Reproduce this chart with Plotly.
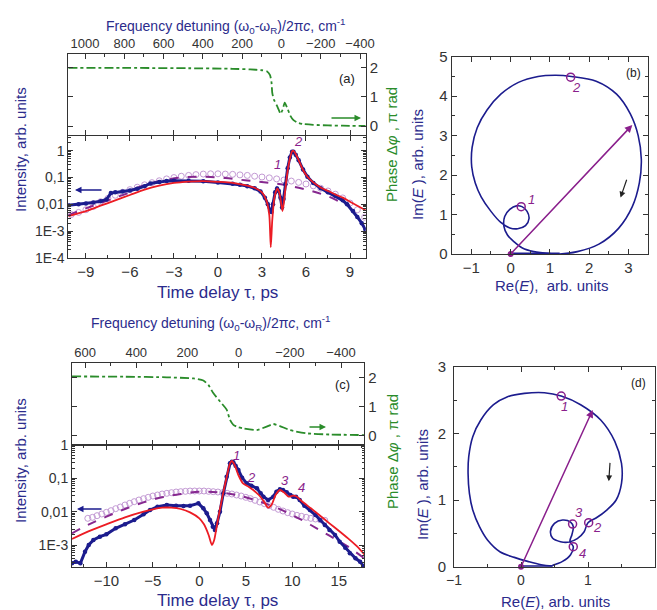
import numpy as np
import plotly.graph_objects as go

W, H = 657, 610
FONT = "Arial, Liberation Sans, sans-serif"
BLUE = "#1c1c8e"
TBLUE = "#2b2b8c"
RED = "#ec1c24"
PURD = "#86288f"
PURL = "#c39ad4"
GREEN = "#2a8c2a"
PURA = "#8a1f8c"
AX = "#333333"

# ---------------- Panel (a) ----------------
a_phase_t = [-10.2, -6, -2, 1, 2.2, 3.0, 3.35, 3.55, 3.65, 3.7, 3.8, 4.0, 4.15, 4.26, 4.4, 4.55,
             4.7, 4.94, 5.15, 5.4, 5.8, 6.5, 7.5, 8.5, 10.07]
a_phase = [2.0, 2.0, 1.99, 1.97, 1.95, 1.92, 1.88, 1.75, 1.5, 1.15, 0.92, 0.72, 0.55, 0.42, 0.55, 0.8,
           0.65, 0.35, 0.2, 0.12, 0.07, 0.04, 0.02, 0.01, 0.0]

a_exp_t = [-10.2, -9.5, -9.0, -8.5, -8.0, -7.6, -7.3, -7.0, -6.5, -6.0, -5.5, -5.0, -4.6, -4.0, -3.5,
           -3.0, -2.0, -1.0, 0.0, 1.0, 1.5, 2.0, 2.5, 2.9, 3.2, 3.4, 3.55, 3.65, 3.75, 3.9, 4.03,
           4.15, 4.26, 4.37, 4.47, 4.6, 4.75, 4.9, 5.05, 5.15, 5.3, 5.5, 5.8, 6.1, 6.5, 7.0, 7.5,
           8.0, 8.5, 8.8, 9.2, 9.5, 9.8, 10.05]
a_exp_log = [-2.03, -2.0, -1.97, -1.93, -1.88, -1.82, -1.58, -1.55, -1.52, -1.48, -1.42, -1.32, -1.22,
             -1.17, -1.13, -1.12, -1.12, -1.14, -1.18, -1.23, -1.27, -1.32, -1.4, -1.52, -1.75, -2.0,
             -2.25, -2.28, -2.0, -1.55, -1.41, -1.5, -1.75, -2.12, -1.8, -1.25, -0.65, -0.25, -0.04,
             -0.04, -0.15, -0.35, -0.7, -0.97, -1.2, -1.4, -1.55, -1.68, -1.85, -2.0, -2.25, -2.47,
             -2.7, -2.95]

a_calc_t = [-10.2, -9, -8, -7, -6, -5, -4, -3, -2, -1, 0, 1, 2, 2.5, 3.0, 3.3, 3.5, 3.6, 3.7, 3.85,
            4.05, 4.2, 4.32, 4.4, 4.5, 4.6, 4.75, 4.9, 5.05, 5.15, 5.3, 5.5, 5.8, 6.1, 6.5, 7.0, 7.5,
            8.0, 8.5, 9.0, 9.5, 10.07]
a_calc_log = [-2.44, -2.25, -2.05, -1.85, -1.65, -1.45, -1.3, -1.2, -1.15, -1.13, -1.16, -1.2, -1.3,
              -1.38, -1.55, -1.85, -2.4, -3.6, -2.6, -1.75, -1.4, -1.6, -2.0, -2.25, -1.9, -1.4,
              -0.75, -0.3, -0.02, 0.0, -0.12, -0.35, -0.72, -0.97, -1.18, -1.37, -1.5, -1.63,
              -1.75, -1.9, -2.05, -2.22]

a_ref_t = [-10.0, -9.5, -9.0, -8.5, -8.0, -7.5, -7.0, -6.5, -6.0, -5.5, -5.0, -4.5, -4.0, -3.5, -3.0,
           -2.5, -2.0, -1.5, -1.0, -0.5, 0.0, 0.5, 1.0, 1.5, 2.0, 2.5, 3.0, 3.5, 4.0, 4.5, 5.0, 5.5,
           6.0, 6.5, 7.0, 7.5, 8.0, 8.5, 9.0, 9.5, 10.0]
a_ref_log = [-2.38, -2.3, -2.2, -2.08, -1.9, -1.78, -1.66, -1.55, -1.45, -1.36, -1.27, -1.19, -1.12,
             -1.05, -1.0, -0.95, -0.92, -0.89, -0.87, -0.86, -0.86, -0.87, -0.88, -0.9, -0.92, -0.95,
             -0.98, -1.01, -1.05, -1.09, -1.13, -1.18, -1.24, -1.31, -1.4, -1.5, -1.62, -1.76,
             -1.95, -2.2, -2.48]

a_dash_t = [-10.2, -9, -8, -7, -6, -5.5, -4.5, -3.5, -2.5, -1.5, -0.5, 0.5, 1.5, 2.5, 3.5, 4.5, 5.5,
            6.5, 7.5, 8.5, 9.0]
a_dash_log = [-2.4, -2.15, -1.95, -1.75, -1.55, -1.38, -1.2, -1.08, -1.0, -0.97, -0.98, -1.02, -1.08,
              -1.14, -1.2, -1.27, -1.38, -1.52, -1.7, -1.95, -2.05]

# ---------------- Panel (b) ----------------
b_axis_re = [0.0, 0.6, 1.25]
b_axis_im = [0.0, 0.0, 0.0]
b_re = [1.25, 1.0, 0.59, 0.3, 0.1, -0.08, -0.17, -0.15, -0.02, 0.15, 0.29, 0.42, 0.47, 0.38, 0.18,
        -0.02, -0.25, -0.5, -0.75, -0.9, -0.99, -0.98, -0.85, -0.6, -0.25, 0.2, 0.7, 1.15, 1.55,
        2.18, 2.7, 3.05, 3.25, 3.33, 3.28, 3.1, 2.75, 2.25, 1.7, 1.25]
b_im = [0.0, 0.01, 0.06, 0.15, 0.3, 0.48, 0.7, 0.95, 1.13, 1.22, 1.2, 1.08, 0.9, 0.72, 0.64, 0.66,
        0.8, 1.08, 1.45, 1.8, 2.21, 2.7, 3.2, 3.65, 4.05, 4.35, 4.5, 4.53, 4.5, 4.38, 4.05, 3.55,
        3.0, 2.4, 1.8, 1.2, 0.65, 0.25, 0.06, 0.0]
b_pts_re = [0.27, 1.53]
b_pts_im = [1.2, 4.48]
b_vec = (3.1, 3.27)

# ---------------- Panel (c) ----------------
c_phase_t = [-13.7, -8, -3.5, -0.64, 0.43, 0.97, 1.5, 2.23, 2.94, 3.3, 3.66, 4.2, 4.73, 6.17, 7.24,
             7.96, 8.67, 9.75, 11.5, 14.0, 17.75]
c_phase = [2.04, 2.03, 2.01, 1.97, 1.9, 1.75, 1.47, 1.18, 0.9, 0.55, 0.38, 0.3, 0.26, 0.2, 0.32,
           0.41, 0.34, 0.2, 0.09, 0.05, 0.03]

c_exp_t = [-13.7, -13.3, -12.8, -12.3, -11.9, -11.4, -10.7, -10.0, -9.0, -8.0, -7.0, -6.0, -5.3, -4.5,
           -3.5, -2.5, -1.7, -1.0, -0.1, 0.43, 0.8, 1.15, 1.45, 1.68, 1.9, 2.22, 2.58, 2.94, 3.3,
           3.5, 3.66, 3.9, 4.2, 4.6, 5.1, 5.6, 6.2, 6.6, 6.9, 7.4, 7.96, 8.3, 8.67, 9.0, 9.4, 9.8,
           10.1, 10.4, 10.8, 11.3, 11.9, 12.5, 13.0, 13.5, 14.0, 14.6, 15.1, 15.7, 16.2, 16.8, 17.3,
           17.7]
c_exp_log = [-3.55, -3.5, -3.55, -3.2, -3.0, -2.85, -2.75, -2.68, -2.5, -2.38, -2.25, -2.08, -1.95,
             -1.85, -1.8, -1.82, -1.83, -1.82, -1.75, -1.9, -2.05, -2.25, -2.45, -2.55, -2.35, -2.0,
             -1.45, -0.95, -0.55, -0.5, -0.52, -0.62, -0.75, -0.98, -1.15, -1.22, -1.3, -1.45,
             -1.55, -1.65, -1.55, -1.4, -1.33, -1.35, -1.42, -1.5, -1.55, -1.55, -1.65, -1.82,
             -1.95, -2.1, -2.25, -2.4, -2.55, -2.7, -2.9, -3.08, -3.25, -3.4, -3.5, -3.65]

c_calc_t = [-13.7, -12, -10, -8, -6, -5, -4, -3, -2, -1, 0, 0.5, 1.0, 1.35, 1.6, 1.9, 2.2, 2.6, 2.95,
            3.3, 3.5, 3.8, 4.2, 4.7, 5.3, 5.8, 6.4, 6.9, 7.4, 7.8, 8.2, 8.67, 9.1, 9.6, 10.1, 10.5,
            11, 12, 13, 14, 15, 16, 17, 17.75]
c_calc_log = [-2.82, -2.6, -2.38, -2.17, -2.0, -1.93, -1.88, -1.88, -1.92, -2.02, -2.2, -2.38, -2.7,
              -3.0, -2.85, -2.4, -1.95, -1.4, -0.95, -0.55, -0.48, -0.6, -0.9, -1.15, -1.25, -1.35,
              -1.5, -1.67, -1.88, -1.78, -1.5, -1.35, -1.42, -1.55, -1.52, -1.55, -1.68, -1.9,
              -2.12, -2.35, -2.57, -2.8, -3.05, -3.28]

c_ref_t = [-12, -11.5, -11, -10.5, -10, -9.5, -9, -8.5, -8, -7.5, -7, -6.5, -6, -5.5, -5, -4.5, -4,
           -3.5, -3, -2.5, -2, -1.5, -1, -0.5, 0, 0.5, 1, 1.5, 2, 2.5, 3, 3.5, 4, 4.5, 5, 5.5, 6,
           6.5, 7, 7.5, 8, 8.5, 9, 9.5, 10, 10.5, 11, 11.5, 12, 12.5, 13, 13.5]
c_ref_log = [-2.2, -2.17, -2.12, -2.07, -2.02, -1.97, -1.91, -1.86, -1.8, -1.75, -1.7, -1.65, -1.61,
             -1.57, -1.53, -1.5, -1.47, -1.45, -1.43, -1.41, -1.4, -1.39, -1.38, -1.38, -1.38, -1.38,
             -1.39, -1.4, -1.41, -1.43, -1.45, -1.47, -1.5, -1.53, -1.57, -1.61, -1.66, -1.71,
             -1.76, -1.82, -1.87, -1.93, -1.98, -2.03, -2.07, -2.11, -2.14, -2.17, -2.2, -2.22,
             -2.24, -2.26]

c_dash_t = [-13.7, -12, -10, -8, -6, -4, -2, 0, 2, 4, 6, 8, 10, 12, 14, 16, 17.75]
c_dash_log = [-2.65, -2.4, -2.15, -1.92, -1.72, -1.57, -1.47, -1.4, -1.42, -1.5, -1.65, -1.85, -2.1,
              -2.4, -2.72, -3.05, -3.4]

# ---------------- Panel (d) ----------------
d_axis_re = [0.0, 0.25, 0.47]
d_axis_im = [0.0, 0.0, 0.0]
d_re = [0.47, 0.3, 0.1, -0.1, -0.31, -0.5, -0.62, -0.72, -0.77, -0.79, -0.78, -0.72, -0.6, -0.41,
        -0.2, 0.05, 0.35, 0.6, 0.89, 1.19, 1.4, 1.5, 1.5, 1.42, 1.28, 1.12, 1.0, 0.94, 0.84, 0.72,
        0.59, 0.47, 0.44, 0.5, 0.62, 0.74, 0.78, 0.76, 0.73, 0.78, 0.74, 0.62, 0.47]
d_im = [0.01, 0.03, 0.08, 0.14, 0.22, 0.4, 0.6, 0.85, 1.1, 1.4, 1.65, 1.95, 2.2, 2.43, 2.55, 2.6,
        2.61, 2.56, 2.43, 2.2, 1.88, 1.55, 1.25, 1.0, 0.85, 0.73, 0.66, 0.52, 0.42, 0.37, 0.375,
        0.43, 0.53, 0.65, 0.7, 0.67, 0.6, 0.48, 0.38, 0.3, 0.18, 0.08, 0.02]
d_pts_re = [0.6, 1.01, 0.77, 0.78]
d_pts_im = [2.56, 0.66, 0.64, 0.3]
d_vec = (1.07, 2.35)

# ---------------- geometry helpers (pixel -> paper) ----------------
def px(x):
    return x / W

def py(y):
    return 1 - y / H

fig = go.Figure()

def lg(v):
    return [10 ** x for x in v]

# ---- (a) phase ----
fig.add_trace(go.Scatter(x=a_phase_t, y=a_phase, xaxis="x2", yaxis="y2", mode="lines",
                         line=dict(color=GREEN, width=1.8, dash="dashdot", shape="spline", smoothing=0.5)))
fig.add_trace(go.Scatter(x=[None], y=[None], xaxis="x3", yaxis="y2", mode="lines"))
# ---- (a) intensity ----
fig.add_trace(go.Scatter(x=a_ref_t, y=lg(a_ref_log), xaxis="x", yaxis="y", mode="markers",
                         marker=dict(symbol="circle-open", size=6, color=PURL, line=dict(width=1))))
fig.add_trace(go.Scatter(x=a_dash_t, y=lg(a_dash_log), xaxis="x", yaxis="y", mode="lines",
                         line=dict(color=PURD, width=2, dash="dash", shape="spline")))
fig.add_trace(go.Scatter(x=a_exp_t, y=lg(a_exp_log), xaxis="x", yaxis="y", mode="lines+markers",
                         line=dict(color=BLUE, width=3), marker=dict(size=4.5, color=BLUE)))
fig.add_trace(go.Scatter(x=a_calc_t, y=lg(a_calc_log), xaxis="x", yaxis="y", mode="lines",
                         line=dict(color=RED, width=1.8, shape="spline", smoothing=0.6)))

# ---- (b) ----
fig.add_trace(go.Scatter(x=b_axis_re, y=b_axis_im, xaxis="x4", yaxis="y4", mode="lines",
                         line=dict(color=BLUE, width=3)))
fig.add_trace(go.Scatter(x=b_re, y=b_im, xaxis="x4", yaxis="y4", mode="lines",
                         line=dict(color=BLUE, width=1.6, shape="spline", smoothing=1.0)))
fig.add_trace(go.Scatter(x=[0], y=[0], xaxis="x4", yaxis="y4", mode="markers",
                         marker=dict(size=6, color=PURA), cliponaxis=False))
fig.add_trace(go.Scatter(x=b_pts_re, y=b_pts_im, xaxis="x4", yaxis="y4", mode="markers",
                         marker=dict(symbol="circle-open", size=8, color=PURA, line=dict(width=1.5))))

# ---- (c) phase ----
fig.add_trace(go.Scatter(x=c_phase_t, y=c_phase, xaxis="x6", yaxis="y6", mode="lines",
                         line=dict(color=GREEN, width=1.8, dash="dashdot", shape="spline", smoothing=0.5)))
fig.add_trace(go.Scatter(x=[None], y=[None], xaxis="x7", yaxis="y6", mode="lines"))
# ---- (c) intensity ----
fig.add_trace(go.Scatter(x=c_ref_t, y=lg(c_ref_log), xaxis="x5", yaxis="y5", mode="markers",
                         marker=dict(symbol="circle-open", size=6, color=PURL, line=dict(width=1))))
fig.add_trace(go.Scatter(x=c_dash_t, y=lg(c_dash_log), xaxis="x5", yaxis="y5", mode="lines",
                         line=dict(color=PURD, width=2, dash="dash", shape="spline")))
fig.add_trace(go.Scatter(x=c_exp_t, y=lg(c_exp_log), xaxis="x5", yaxis="y5", mode="lines+markers",
                         line=dict(color=BLUE, width=3), marker=dict(size=4.5, color=BLUE)))
fig.add_trace(go.Scatter(x=c_calc_t, y=lg(c_calc_log), xaxis="x5", yaxis="y5", mode="lines",
                         line=dict(color=RED, width=1.8, shape="spline", smoothing=0.6)))

# ---- (d) ----
fig.add_trace(go.Scatter(x=d_axis_re, y=d_axis_im, xaxis="x8", yaxis="y8", mode="lines",
                         line=dict(color=BLUE, width=3)))
fig.add_trace(go.Scatter(x=d_re, y=d_im, xaxis="x8", yaxis="y8", mode="lines",
                         line=dict(color=BLUE, width=1.6, shape="spline", smoothing=1.0)))
fig.add_trace(go.Scatter(x=[0], y=[0], xaxis="x8", yaxis="y8", mode="markers",
                         marker=dict(size=6, color=PURA), cliponaxis=False))
fig.add_trace(go.Scatter(x=d_pts_re, y=d_pts_im, xaxis="x8", yaxis="y8", mode="markers",
                         marker=dict(symbol="circle-open", size=8, color=PURA, line=dict(width=1.5))))

# ---------------- axes ----------------
tickfont = dict(family=FONT, size=15, color=AX)

def base(**kw):
    d = dict(showline=True, linecolor=AX, linewidth=1, ticks="inside", ticklen=5, tickcolor=AX,
             showgrid=False, zeroline=False, tickfont=tickfont, automargin=False)
    d.update(kw)
    return d

log_minor = [m * 10.0 ** e for e in range(-5, 1) for m in range(2, 10)]

# (a)
xa_dom = [px(68.3), px(365.7)]
fig.update_layout(
    xaxis=base(domain=xa_dom, anchor="y", range=[-10.2, 10.07], tickvals=[-9, -6, -3, 0, 3, 6, 9],
               mirror="ticks", minor=dict(ticks="inside", ticklen=3, dtick=1.5, tick0=0, tickcolor=AX)),
    yaxis=base(domain=[py(258), py(136)], anchor="x", type="log", range=[-4, 0.55],
               tickvals=[1e-4, 1e-3, 0.01, 0.1, 1], ticktext=["1E-4", "1E-3", "0,01", "0,1", "1"],
               tickfont=dict(family=FONT, size=14, color=AX), mirror="ticks",
               minor=dict(ticks="inside", ticklen=2.5, tickmode="array", tickvals=log_minor, tickcolor=AX)),
    xaxis2=base(domain=xa_dom, anchor="y2", range=[-10.2, 10.07], showticklabels=False,
                tickvals=[-9, -6, -3, 0, 3, 6, 9]),
    yaxis2=base(domain=[py(135), py(54)], anchor="x2", side="right", range=[-0.31, 2.48],
                tickvals=[0, 1, 2], mirror="ticks"),
    xaxis3=base(domain=xa_dom, anchor="y2", overlaying="x2", side="top", range=[1085, -429],
                dtick=200, tick0=0, tickfont=dict(family=FONT, size=13, color=AX),
                minor=dict(ticks="inside", ticklen=3, dtick=100, tickcolor=AX)),
)
# (b)
fig.update_layout(
    xaxis4=base(domain=[px(451.7), px(648)], anchor="y4", range=[-1.5, 3.5], dtick=1, tick0=0,
                mirror="ticks", minor=dict(ticks="inside", ticklen=3, dtick=0.5, tick0=0, tickcolor=AX)),
    yaxis4=base(domain=[py(254), py(56.7)], anchor="x4", range=[0, 5], dtick=1, tick0=0,
                mirror="ticks", minor=dict(ticks="inside", ticklen=3, dtick=0.5, tick0=0, tickcolor=AX)),
)
# (c)
xc_dom = [px(72), px(364.3)]
fig.update_layout(
    xaxis5=base(domain=xc_dom, anchor="y5", range=[-13.7, 17.75], tickvals=[-10, -5, 0, 5, 10, 15],
                mirror="ticks", minor=dict(ticks="inside", ticklen=3, dtick=2.5, tick0=0, tickcolor=AX)),
    yaxis5=base(domain=[py(567), py(445)], anchor="x5", type="log", range=[-3.66, 0],
                tickvals=[1e-3, 0.01, 0.1, 1], ticktext=["1E-3", "0,01", "0,1", "1"],
                tickfont=dict(family=FONT, size=14, color=AX), mirror="ticks",
                minor=dict(ticks="inside", ticklen=2.5, tickmode="array", tickvals=log_minor, tickcolor=AX)),
    xaxis6=base(domain=xc_dom, anchor="y6", range=[-13.7, 17.75], showticklabels=False,
                tickvals=[-10, -5, 0, 5, 10, 15]),
    yaxis6=base(domain=[py(445), py(363)], anchor="x6", side="right", range=[-0.31, 2.5],
                tickvals=[0, 1, 2], mirror="ticks"),
    xaxis7=base(domain=xc_dom, anchor="y6", overlaying="x6", side="top", range=[651, -491],
                dtick=200, tick0=0, tickfont=dict(family=FONT, size=13, color=AX),
                minor=dict(ticks="inside", ticklen=3, dtick=100, tickcolor=AX)),
)
# (d)
fig.update_layout(
    xaxis8=base(domain=[px(454), px(655)], anchor="y8", range=[-1, 2], dtick=1, tick0=0,
                mirror="ticks", tickfont=dict(family=FONT, size=14, color=AX),
                minor=dict(ticks="inside", ticklen=3, dtick=0.5, tick0=0, tickcolor=AX)),
    yaxis8=base(domain=[py(566.7), py(366.7)], anchor="x8", range=[0, 3], dtick=1, tick0=0,
                mirror="ticks", ticklabelstandoff=4,
                minor=dict(ticks="inside", ticklen=3, dtick=0.5, tick0=0, tickcolor=AX)),
)

# ---------------- annotations ----------------
ann = []

def ptext(x, y, text, size=15, color=TBLUE, angle=0):
    ann.append(dict(x=px(x), y=py(y), xref="paper", yref="paper", text=text, showarrow=False,
                    textangle=angle, xanchor="center", yanchor="middle",
                    font=dict(family=FONT, size=size, color=color)))

freq_title = "Frequency detuning (ω<sub>0</sub>-ω<sub>R</sub>)/2π<i>c</i>, cm<sup>-1</sup>"
ptext(226, 26, freq_title, 14)
ptext(211, 323, freq_title, 14)
ptext(217, 292, "Time delay τ, ps", 17)
ptext(217, 600, "Time delay τ, ps", 17)
ptext(20, 150, "Intensity, arb. units", 15, angle=-90)
ptext(20, 461, "Intensity, arb. units", 15, angle=-90)
ptext(392, 145, "Phase Δ<i>φ</i> , π rad", 15, GREEN, -90)
ptext(392, 452, "Phase Δ<i>φ</i> , π rad", 15, GREEN, -90)
ptext(551, 285, "Re(<i>E</i>),  arb. units", 15)
ptext(418, 165, "Im(<i>E</i> ), arb. units", 15, angle=-90)
ptext(555, 601, "Re(<i>E</i>), arb. units", 15)
ptext(422, 485, "Im(<i>E</i> ), arb. units", 15, angle=-90)
ptext(347, 79, "(a)", 13, "#222222")
ptext(633, 73, "(b)", 12, "#222222")
ptext(342, 384, "(c)", 13, "#222222")
ptext(638, 383, "(d)", 12, "#222222")

def dtext(xr, yr, x, y, text):
    ann.append(dict(x=x, y=y, xref=xr, yref=yr, text="<i>%s</i>" % text, showarrow=False,
                    font=dict(family=FONT, size=13, color=PURA)))

dtext("x", "y", 4.06, -0.5, "1")
dtext("x", "y", 5.49, 0.33, "2")
dtext("x5", "y5", 4.05, -0.3, "1")
dtext("x5", "y5", 5.66, -0.96, "2")
dtext("x5", "y5", 9.2, -1.05, "3")
dtext("x5", "y5", 11.0, -1.26, "4")
dtext("x4", "y4", 0.54, 1.37, "1")
dtext("x4", "y4", 1.69, 4.22, "2")
dtext("x8", "y8", 0.655, 2.4, "1")
dtext("x8", "y8", 1.14, 0.59, "2")
dtext("x8", "y8", 0.865, 0.81, "3")
dtext("x8", "y8", 0.915, 0.2, "4")

def parrow(hx, hy, tx, ty, color):
    ann.append(dict(x=px(hx), y=py(hy), xref="paper", yref="paper", ax=tx - hx, ay=ty - hy,
                    axref="pixel", ayref="pixel", text="", showarrow=True, arrowhead=2,
                    arrowsize=1, arrowwidth=1.3, arrowcolor=color))

parrow(75, 190, 103, 190, BLUE)
parrow(361, 118, 330, 118, GREEN)
parrow(77, 509, 103, 509, BLUE)
parrow(326, 427, 308, 427, GREEN)

def darrow(xr, yr, hx, hy, tx, ty, color, width):
    ann.append(dict(x=hx, y=hy, xref=xr, yref=yr, ax=tx, ay=ty, axref=xr, ayref=yr, text="",
                    showarrow=True, arrowhead=2, arrowsize=1, arrowwidth=width, arrowcolor=color))

darrow("x4", "y4", b_vec[0], b_vec[1], 0, 0, PURA, 1.5)
darrow("x8", "y8", d_vec[0], d_vec[1], 0, 0, PURA, 1.5)
darrow("x4", "y4", 2.8, 1.43, 2.97, 1.92, "#222222", 1.2)
darrow("x8", "y8", 1.31, 1.28, 1.33, 1.58, "#222222", 1.2)

fig.update_layout(
    annotations=ann,
    width=W, height=H, margin=dict(l=0, r=0, t=0, b=0, pad=0, autoexpand=False),
    paper_bgcolor="white", plot_bgcolor="white", showlegend=False,
    font=dict(family=FONT, color=AX),
)

fig.write_html("out.html", config={"displayModeBar": False},
               post_script="document.body.style.margin='0px';document.body.style.overflow='hidden';")
